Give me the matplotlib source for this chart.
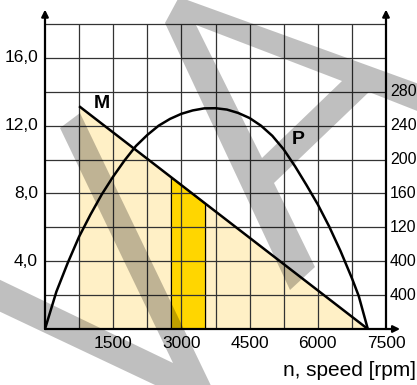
import numpy as np
import matplotlib
matplotlib.use("Agg")
import matplotlib.pyplot as plt
from matplotlib.path import Path
from matplotlib.patches import PathPatch

plt.rcParams['font.family'] = ['Liberation Sans', 'DejaVu Sans']

# ---------- data (left axis units) ----------
speed_m = [750, 7100]
torque_m = [13.15, 0.0]

speed_p = [0, 250, 500, 750, 1000, 1250, 1500, 1750, 2000, 2250, 2500, 2750, 3000,
           3250, 3500, 3750, 4000, 4250, 4500, 4750, 5000, 5250, 5500, 5750, 6000,
           6250, 6500, 6750, 6900, 7100]
power_p = [0, 2.2, 3.9, 5.45, 6.75, 7.95, 9.0, 9.95, 10.8, 11.45, 12.0, 12.4, 12.7,
           12.9, 13.02, 13.03, 12.95, 12.75, 12.45, 12.0, 11.4, 10.6, 9.6, 8.5, 7.35,
           6.05, 4.6, 3.0, 1.95, 0.0]

band_speed = [2770, 3520]

x_ticks = [1500, 3000, 4500, 6000, 7500]
left_ticks = [16, 12, 8, 4]
left_labels = ["16,0", "12,0", "8,0", "4,0"]
right_ticks = [14, 12, 10, 8, 6, 4, 2]
right_labels = ["280", "240", "200", "160", "120", "400", "400"]

W, H = 417, 385
fig = plt.figure(figsize=(W / 100, H / 100), dpi=100)
ax = fig.add_axes([45 / W, 1 - 329 / H, 341 / W, 305 / H])
ax.set_xlim(0, 7500)
ax.set_ylim(0, 18)
ax.axis("off")

# fills
ax.fill_between(speed_m, torque_m, 0, color="#fff0c6", lw=0, zorder=1)
band_top = np.interp(band_speed, speed_m, torque_m)
ax.fill_between(band_speed, band_top, 0, color="#ffd600", edgecolor="k", lw=0.9, zorder=1.5)

# grid
grid_c = "#333333"
ax.hlines(np.arange(2, 19, 2), 0, 7500, color=grid_c, lw=0.9, zorder=2, clip_on=False)
ax.vlines(np.arange(750, 7500, 750), 0, 18, color=grid_c, lw=0.9, zorder=2, clip_on=False)

# axes with arrows
arrow = dict(arrowstyle='-|>', color='k', lw=1.6, mutation_scale=10, shrinkA=0, shrinkB=0)
ax.annotate('', xy=(0, 18.85), xytext=(0, 0), arrowprops=arrow, annotation_clip=False, zorder=4)
ax.annotate('', xy=(7500, 18.85), xytext=(7500, 0), arrowprops=arrow, annotation_clip=False, zorder=4)
ax.annotate('', xy=(7810, 0), xytext=(0, 0), arrowprops=arrow, annotation_clip=False, zorder=4)

# curves
ax.plot(speed_m, torque_m, color='k', lw=1.8, zorder=3, solid_capstyle='butt')
ax.plot(speed_p, power_p, color='k', lw=1.8, zorder=3, solid_joinstyle='round')

ax.text(1254, 13.3, "M", fontsize=14, fontweight='bold', ha='center', va='center')
ax.text(5575, 11.16, "P", fontsize=14, fontweight='bold', ha='center', va='center')

# tick labels
for v, lbl in zip(left_ticks, left_labels):
    ax.annotate(lbl, xy=(0, v), xytext=(-7, 0), textcoords='offset pixels',
                ha='right', va='center', fontsize=12.5, annotation_clip=False)
for v, lbl in zip(right_ticks, right_labels):
    ax.annotate(lbl, xy=(7500, v), xytext=(4, 0), textcoords='offset pixels',
                ha='left', va='center', fontsize=11.5, annotation_clip=False)
for v in x_ticks:
    ax.annotate(str(v), xy=(v, 0), xytext=(0, -7), textcoords='offset pixels',
                ha='center', va='top', fontsize=12.5, annotation_clip=False)

fig.text(283 / W, 1 - 371 / H, "n, speed [rpm]", ha='left', va='center', fontsize=15)


# ---------- gray watermark (pixel coords, y down) ----------
def ring(pts, ccw=True):
    pts = np.array(pts, dtype=float)
    x, y = pts[:, 0] / W, 1 - pts[:, 1] / H
    area = 0.5 * np.sum(x * np.roll(y, -1) - np.roll(x, -1) * y)
    if (area > 0) != ccw:
        x, y = x[::-1], y[::-1]
    verts = list(zip(x, y)) + [(x[0], y[0])]
    codes = [Path.MOVETO] + [Path.LINETO] * (len(verts) - 2) + [Path.CLOSEPOLY]
    return verts, codes


a_outer = [(165, 23), (179, -3), (430, 88), (430, 116), (369, 92), (274, 183),
           (315, 267), (290, 290)]
a_hole = [(196, 25), (342, 81), (262, 158)]
v_shape = [(60, 128), (173, 363), (-10, 275), (-10, 307), (227, 419), (80, 113)]

for parts in ([ring(a_outer, True), ring(a_hole, False)], [ring(v_shape, True)]):
    verts = sum([p[0] for p in parts], [])
    codes = sum([p[1] for p in parts], [])
    fig.add_artist(PathPatch(Path(verts, codes), facecolor='k', alpha=0.25, lw=0,
                             transform=fig.transFigure, zorder=10))

fig.savefig("out.png", dpi=100)
